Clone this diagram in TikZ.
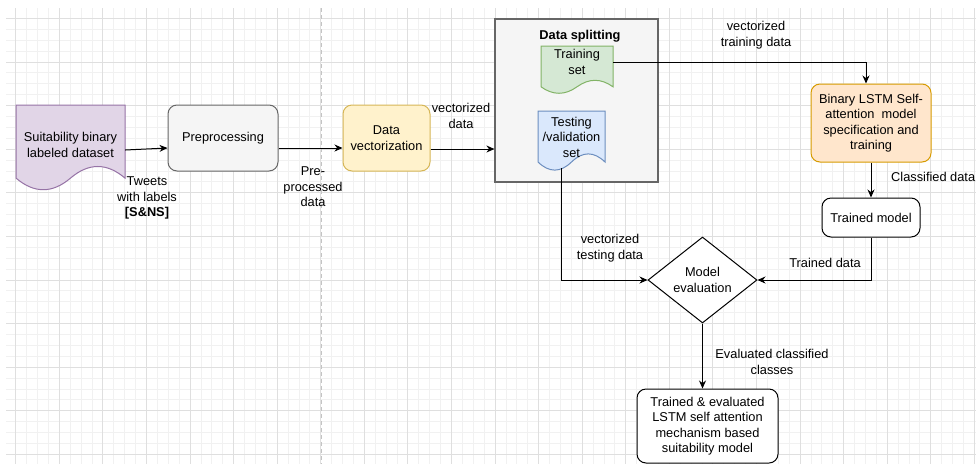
\documentclass[tikz,border=0pt]{standalone}
\usepackage{fontspec}
\setmainfont{Liberation Sans}
\usetikzlibrary{shapes.geometric, arrows.meta, positioning, calc}

\definecolor{purpfill}{HTML}{E1D5E7}
\definecolor{purpline}{HTML}{9673A6}
\definecolor{grayfill}{HTML}{F5F5F5}
\definecolor{grayline}{HTML}{666666}
\definecolor{yelfill}{HTML}{FFF2CC}
\definecolor{yelline}{HTML}{D6B656}
\definecolor{grnfill}{HTML}{D5E8D4}
\definecolor{grnline}{HTML}{82B366}
\definecolor{bluefill}{HTML}{DAE8FC}
\definecolor{blueline}{HTML}{6C8EBF}
\definecolor{orgfill}{HTML}{FFE6CC}
\definecolor{orgline}{HTML}{D79B00}
\definecolor{gridminor}{HTML}{F1F1F1}
\definecolor{gridmajor}{HTML}{DFDFDF}
\definecolor{pageline}{HTML}{C4C4C4}

\newcommand{\dfont}{\fontsize{12.8}{15.5}\selectfont}
% document shape with wavy bottom: style, x, y, width, height
\newcommand{\docshape}[5]{%
  \draw[#1, line width=1pt, shift={(#2,#3)}, x=#4pt, y=-#5pt]
    (0,0) -- (1,0) -- (1,.85)
    .. controls (.8333,.67) and (.6667,.67) .. (.5,.85)
    .. controls (.3333,1.03) and (.1667,1.03) .. (0,.85) -- cycle;}

\begin{document}
\begin{tikzpicture}[x=1pt, y=-1pt,
  every node/.style={font=\dfont, align=center, inner sep=1pt},
  box/.style={draw, rounded corners=9pt, line width=1pt, inner sep=2pt},
  doctext/.style={inner sep=0pt},
  arrow/.style={-{Stealth[length=8pt, width=7pt]}, line width=1pt},
  minorgrid/.style={draw=gridminor, line width=0.8pt},
  majorgrid/.style={draw=gridmajor, line width=0.8pt}
]
  \useasboundingbox (0,0) rectangle (976,464);
  \fill[white] (0,0) rectangle (976,464);

  % Grid
  \foreach \k in {0,...,88}
    \draw[minorgrid] ({15.73+10.893*\k},8) -- ({15.73+10.893*\k},464);
  \foreach \k in {0,...,40}
    \draw[minorgrid] (6,{18.3+10.9*\k}) -- (976,{18.3+10.9*\k});
  \foreach \k in {0,4,...,88}
    \draw[majorgrid] ({15.73+10.893*\k},8) -- ({15.73+10.893*\k},464);
  \foreach \k in {0,4,...,40}
    \draw[majorgrid] (6,{18.3+10.9*\k}) -- (976,{18.3+10.9*\k});
  \draw[pageline, line width=1pt, dash pattern=on 4pt off 3pt] (321,8) -- (321,464);

  % Nodes
  \node[draw=grayline, fill=grayfill, line width=1.2pt,
        minimum width=163pt, minimum height=163pt] (split) at (576.5,100.5) {};
  \node[font=\dfont\bfseries] (splittitle) at (580,36) {Data splitting};

  \docshape{fill=purpfill, draw=purpline}{16}{105}{109}{86}
  \node[doctext, minimum width=109pt] (dataset) at (70.5,145) {Suitability binary\\labeled dataset};
  \docshape{fill=grnfill, draw=grnline}{541}{46}{72}{48}
  \node[doctext, minimum width=72pt] (train) at (577,62) {Training\\set};
  \docshape{fill=bluefill, draw=blueline}{538}{111}{67}{60}
  \node[doctext, minimum width=67pt, minimum height=62pt] (test) at (571.5,137) {Testing\\/validation\\set};

  \node[box, fill=grayfill, draw=grayline, minimum width=110pt, minimum height=66pt] (prep) at (223,138) {Preprocessing};
  \node[box, fill=yelfill, draw=yelline, minimum width=87pt, minimum height=66pt] (vec) at (386.5,138) {Data\\vectorization};
  \node[box, fill=orgfill, draw=orgline, minimum width=120pt, minimum height=78pt] (lstm) at (871,123)
    {Binary LSTM Self-\\attention\ \ model\\specification and\\training};
  \node[box, fill=white, minimum width=98pt, minimum height=39pt] (trained) at (871,217.5) {Trained model};
  \node[draw, diamond, aspect=1.27, inner sep=0pt, line width=1pt, fill=white,
        minimum width=109pt, minimum height=86pt] (eval) at (702.5,280) {Model\\evaluation};
  \node[box, fill=white, minimum width=141pt, minimum height=74pt] (final) at (707.5,426)
    {Trained \& evaluated\\LSTM self attention\\mechanism based\\suitability model};

  % Labels
  \node (tweets) at (147,198) {Tweets\\with labels\\\textbf{[S\&NS]}};
  \node (prelbl) at (313,187) {Pre-\\processed\\data};
  \node (veclbl) at (461,116) {vectorized\\data};
  \node (trainlbl) at (756,35) {vectorized\\training data};
  \node (testlbl) at (610,248) {vectorized\\testing data};
  \node[anchor=west] (clslbl) at (890,177) {Classified data};
  \node (trdlbl) at (825,263) {Trained data};
  \node (evallbl) at (772,362) {Evaluated classified\\classes};

  % Arrows
  \draw[arrow] ([yshift=-5pt]dataset.east) -- ([yshift=-10pt]prep.west);
  \draw[arrow] ([yshift=-10pt]prep.east) -- ([yshift=-10pt]vec.west);
  \draw[arrow] ([yshift=-11pt]vec.east) -- ([yshift=-48.5pt]split.west);
  \draw[arrow] (train.east) -| ([xshift=-5pt]lstm.north);
  \draw[arrow] (lstm) -- (trained);
  \draw[arrow] ([xshift=-10.5pt]test.south) |- (eval.west);
  \draw[arrow] (trained.south) |- (eval.east);
  \draw[arrow] (eval.south) -- (eval.south |- final.north);
\end{tikzpicture}
\end{document}
